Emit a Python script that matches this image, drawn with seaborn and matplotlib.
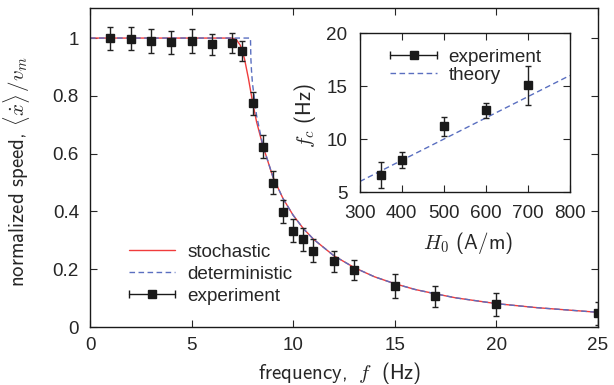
import numpy as np
import pandas as pd
import matplotlib
matplotlib.use('Agg')
import matplotlib.pyplot as plt
from matplotlib.lines import Line2D
import seaborn as sns

# 实验数据 (主图)
freq = [1, 2, 3, 4, 5, 6, 7, 7.5, 8, 8.5, 9, 9.5, 10, 10.5, 11, 12, 13, 15, 17, 20, 25]
speed = [1.0, 0.998, 0.99, 0.985, 0.99, 0.978, 0.982, 0.955, 0.774, 0.624, 0.50, 0.399,
         0.333, 0.303, 0.264, 0.227, 0.197, 0.142, 0.106, 0.078, 0.047]
speed_err = [0.04, 0.04, 0.04, 0.04, 0.04, 0.035, 0.035, 0.035, 0.04, 0.04, 0.04, 0.04,
             0.04, 0.04, 0.04, 0.035, 0.035, 0.04, 0.035, 0.04, 0.04]

# 确定性曲线
det_f = [0, 7.9, 7.92, 7.95, 8.0, 8.2, 8.5, 9, 9.5, 10, 10.5, 11, 12, 13, 14, 15, 16, 17, 18, 20, 22, 25]
det_v = [1.0, 1.0, 0.929, 0.888, 0.842, 0.732, 0.631, 0.521, 0.445, 0.387, 0.341, 0.304,
         0.247, 0.206, 0.174, 0.150, 0.130, 0.115, 0.101, 0.081, 0.067, 0.051]

# 随机曲线
sto_f = [0, 7.0, 7.2, 7.4, 7.6, 7.8, 8.0, 8.2, 8.5, 9, 9.5, 10, 10.5, 11, 12, 13, 14, 15, 16, 17, 18, 20, 22, 25]
sto_v = [1.0, 1.0, 0.995, 0.975, 0.93, 0.86, 0.78, 0.71, 0.63, 0.52, 0.445, 0.387, 0.341,
         0.304, 0.247, 0.206, 0.174, 0.150, 0.130, 0.115, 0.101, 0.081, 0.067, 0.051]

# 插图数据
h0 = [350, 400, 500, 600, 700]
fc = [6.62, 8.03, 11.21, 12.71, 15.06]
fc_err = [1.22, 0.78, 0.9, 0.69, 1.8]
theo_h = [300, 800]
theo_fc = [6.0, 16.0]

sns.set_theme(style='ticks')
plt.rcParams['font.family'] = ['Liberation Sans', 'DejaVu Sans']
plt.rcParams['mathtext.fontset'] = 'cm'

FS = 13.6      # 刻度和图例
LFS = 15.0     # 坐标轴标签
red = '#f03c3c'
blue = '#5a6fc0'


class GnuErrHandler:
    # gnuplot 风格的图例：横线 + 两端竖线 + 中间方块
    def legend_artist(self, legend, orig_handle, fontsize, handlebox):
        x0, y0 = handlebox.xdescent, handlebox.ydescent
        w, h = handlebox.width, handlebox.height
        y = y0 + h / 2
        tr = handlebox.get_transform()
        l1 = Line2D([x0, x0 + w], [y, y], color='k', lw=1, transform=tr)
        l2 = Line2D([x0, x0 + w], [y, y], color='k', lw=0, marker='|', ms=6, mew=1, transform=tr)
        l3 = Line2D([x0 + w / 2], [y], color='k', marker='s', ms=6, lw=0, transform=tr)
        for a in (l1, l2, l3):
            handlebox.add_artist(a)
        return l3


fig = plt.figure(figsize=(6.14, 3.85), dpi=100)
ax = fig.add_axes([0.1466, 0.1506, 0.827, 0.8286])

sns.lineplot(x=sto_f, y=sto_v, ax=ax, color=red, lw=1, label='stochastic')
sns.lineplot(x=det_f, y=det_v, ax=ax, color=blue, lw=1, ls=(0, (4, 2.5)), label='deterministic')
ax.errorbar(freq, speed, yerr=speed_err, fmt='s', color='k', ms=6, ecolor='#222222',
            elinewidth=1, capsize=2.5, capthick=1, zorder=5)

ax.set_xlim(0, 25)
ax.set_ylim(0, 1.104)
ax.set_xticks([0, 5, 10, 15, 20, 25])
ax.set_yticks([0, 0.2, 0.4, 0.6, 0.8, 1])
ax.set_yticklabels(['0', '0.2', '0.4', '0.6', '0.8', '1'])
ax.tick_params(direction='in', top=True, right=True, length=5, width=0.8, labelsize=FS)
ax.tick_params(axis='y', pad=8)
ax.tick_params(axis='x', pad=7)
for s in ax.spines.values():
    s.set_linewidth(1)
    s.set_color('k')
ax.set_xlabel(r'frequency, $\;f\;$ (Hz)', fontsize=LFS, family='cmss10')
ax.set_ylabel(r'normalized speed, $\langle\dot{x}\rangle\,/v_m$', fontsize=LFS, family='cmss10')
ax.xaxis.set_label_coords(0.492, -0.103)
ax.yaxis.set_label_coords(-0.115, 0.486)

h, l = ax.get_legend_handles_labels()
exp_handle = Line2D([], [])
ax.legend(h[:2] + [exp_handle], ['stochastic', 'deterministic', 'experiment'],
          handler_map={exp_handle: GnuErrHandler()}, loc='lower left',
          bbox_to_anchor=(0.062, 0.046), frameon=False, handlelength=2.45,
          labelspacing=0.25, handletextpad=0.63, fontsize=FS, borderaxespad=0)

# 插图
ins = fig.add_axes([0.586, 0.501, 0.342, 0.413])
sns.lineplot(x=theo_h, y=theo_fc, ax=ins, color=blue, lw=1, ls=(0, (4, 2.5)))
ins.errorbar(h0, fc, yerr=fc_err, fmt='s', color='k', ms=6, ecolor='#222222',
             elinewidth=1, capsize=2.5, capthick=1, zorder=5)
ins.set_xlim(300, 800)
ins.set_ylim(5, 20)
ins.set_xticks([300, 400, 500, 600, 700, 800])
ins.set_yticks([5, 10, 15, 20])
ins.tick_params(direction='in', top=True, right=True, length=5, width=0.8, labelsize=FS, pad=9)
for s in ins.spines.values():
    s.set_linewidth(1)
    s.set_color('k')
ins.set_xlabel(r'$H_0$ (A/m)', fontsize=LFS, family='cmss10')
ins.set_ylabel(r'$f_c$ (Hz)', fontsize=LFS, family='cmss10')
ins.xaxis.set_label_coords(0.514, -0.239)
ins.yaxis.set_label_coords(-0.2, 0.484)

exp2 = Line2D([], [])
theo = Line2D([], [], color=blue, lw=1, ls=(0, (4, 2.5)))
ins.legend([exp2, theo], ['experiment', 'theory'], handler_map={exp2: GnuErrHandler()},
           loc='upper left', bbox_to_anchor=(0.11, 0.95), frameon=False, handlelength=2.45,
           labelspacing=0.05, handletextpad=0.63, fontsize=FS, borderaxespad=0)

fig.savefig('out.png', dpi=100)
